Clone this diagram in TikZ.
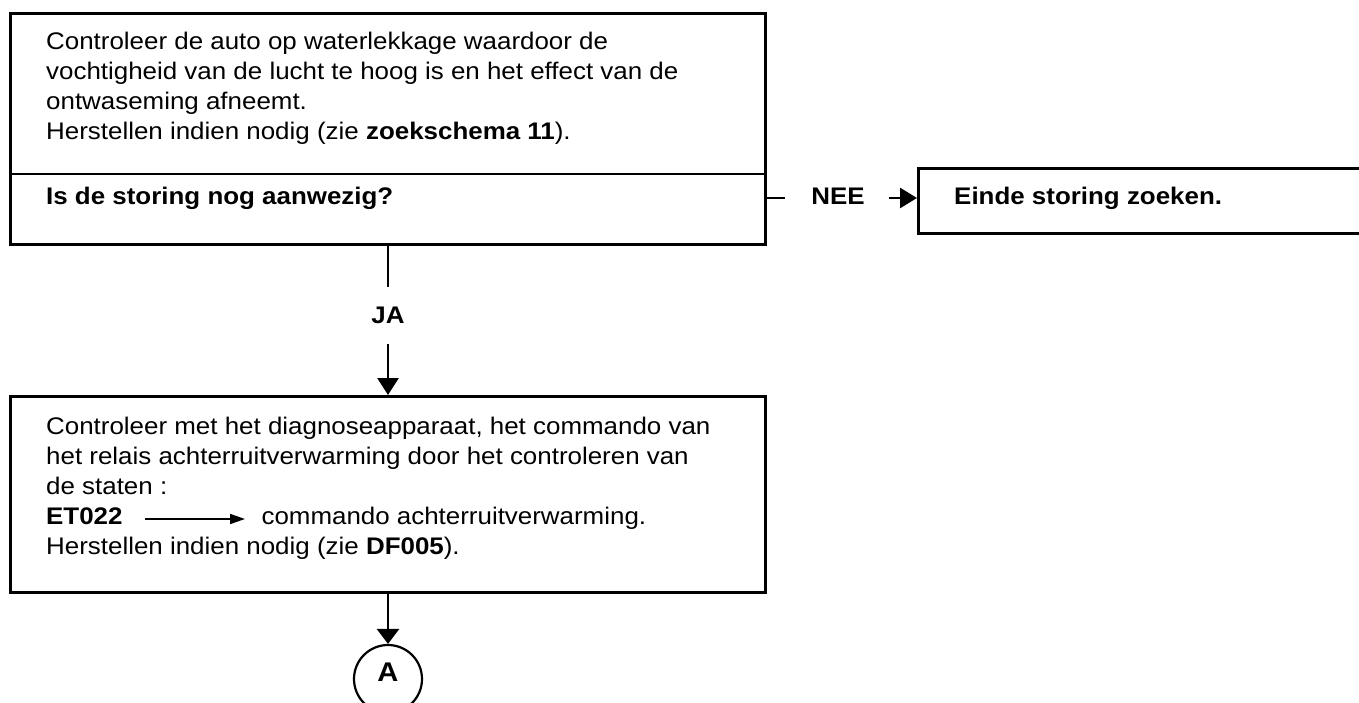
\documentclass[tikz,border=0pt]{standalone}
\usepackage{fontspec}
\setmainfont{Liberation Sans}[FakeStretch=1.08]
\usetikzlibrary{arrows.meta,shapes.geometric}
\begin{document}
\begin{tikzpicture}[x=1pt,y=-1pt,
  boxline/.style={line width=2.8pt},
  conn/.style={line width=2.8pt},
  txt/.style={anchor=north west,inner sep=0pt,font=\fontsize{24}{30}\selectfont,align=left},
  lbl/.style={inner sep=0pt,font=\fontsize{24}{30}\selectfont\bfseries},
  bigarrow/.style={conn,-{Triangle[length=17pt,width=21pt]}},
  smallarrow/.style={line width=1.6pt,-{Triangle[length=15pt,width=10pt]}}]
\useasboundingbox (0,0) rectangle (1359,703);
% box 1
\node[boxline,draw,minimum width=755pt,minimum height=231pt,anchor=north west,inner sep=0pt] (b1) at (9,12) {};
\coordinate (d1l) at (9,174);
\coordinate (d1r) at (764,174);
\draw[boxline] (d1l) -- (d1r);
\node[txt] (t1) at (46,31.5) {Controleer de auto op waterlekkage waardoor de\\vochtigheid van de lucht te hoog is en het effect van de\\ontwaseming afneemt.\\Herstellen indien nodig (zie \textbf{zoekschema 11}).};
\node[txt,anchor=base west,font=\fontsize{24}{30}\selectfont\bfseries] (q1) at (46,205) {Is de storing nog aanwezig?};
% NEE branch
\coordinate (s1) at (764,198);
\coordinate (s2) at (785,198);
\draw[conn] (s1) -- (s2);
\node[lbl,anchor=base] (nee) at (838,205) {NEE};
\node[boxline,draw,minimum width=460pt,minimum height=65pt,anchor=north west,inner sep=0pt] (b2) at (917,167) {};
\coordinate (a1) at (889,198);
\draw[conn,-{Triangle[length=17pt,width=20pt]}] (a1) -- (b2.west |- a1);
\node[txt,anchor=base west,font=\fontsize{24}{30}\selectfont\bfseries] (e1) at (954,205) {Einde storing zoeken.};
% JA branch
\coordinate (v1) at (388,287);
\draw[conn] (b1.south -| v1) -- (v1);
\node[lbl] (ja) at (388,315) {JA};
\coordinate (v2) at (388,344);
% box 3
\node[boxline,draw,minimum width=755pt,minimum height=196pt,anchor=north west,inner sep=0pt] (b3) at (9,395) {};
\draw[bigarrow] (v2) -- (b3.north -| v2);
\node[txt] (t3) at (46,416.5) {Controleer met het diagnoseapparaat, het commando van\\het relais achterruitverwarming door het controleren van\\de staten :\\\textbf{ET022}\hspace*{139pt}commando achterruitverwarming.\\Herstellen indien nodig (zie \textbf{DF005}).};
\coordinate (et1) at (145,519);
\coordinate (et2) at (245,519);
\draw[smallarrow] (et1) -- (et2);
% connector A
\node[draw,line width=2.2pt,circle,minimum size=68pt,inner sep=0pt] (A) at (388,679) {};
\node[inner sep=0pt,font=\fontsize{27}{30}\selectfont\bfseries] (Alab) at (388,672) {A};
\draw[bigarrow,-{Triangle[length=15pt,width=22pt]}] (b3.south -| A) -- (A.north);
\end{tikzpicture}
\end{document}
